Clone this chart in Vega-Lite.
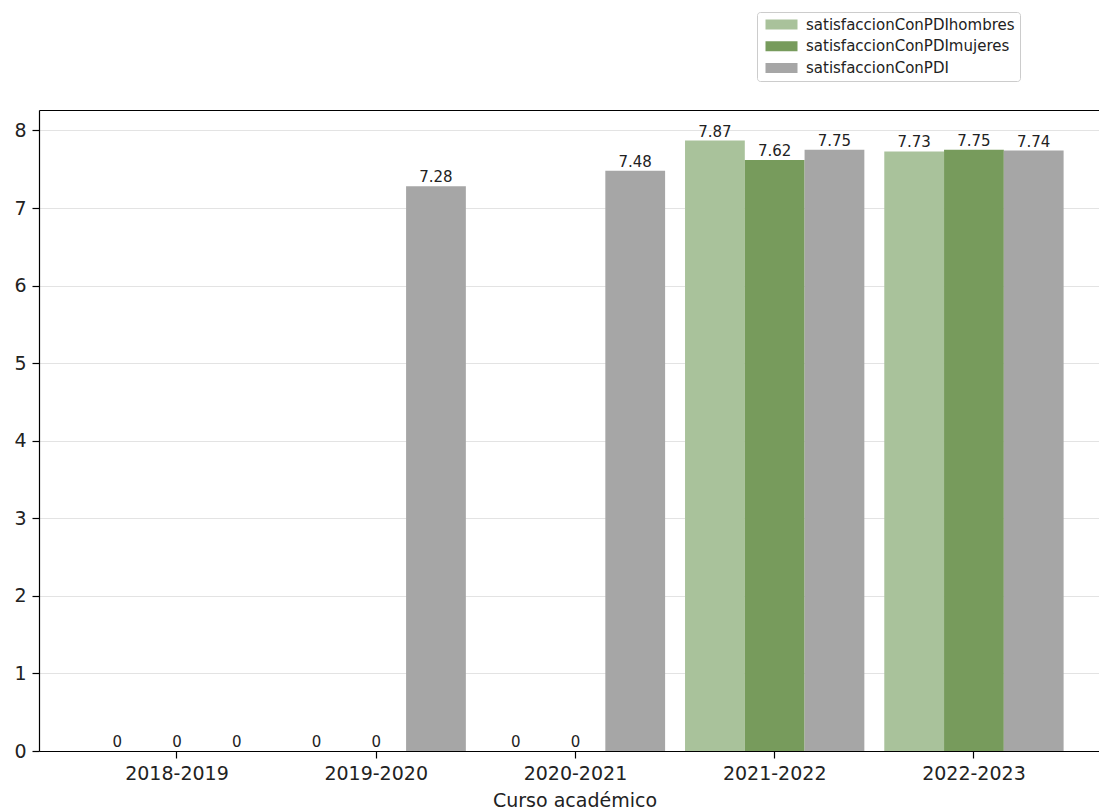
{
  "$schema": "https://vega.github.io/schema/vega-lite/v6.json",
  "width": 1060,
  "height": 641,
  "autosize": "none",
  "padding": {"left": 39, "top": 110, "right": 0, "bottom": 56},
  "background": "white",
  "config": {
    "view": {"stroke": null},
    "font": "DejaVu Sans",
    "axis": {"labelFont": "DejaVu Sans", "titleFont": "DejaVu Sans"}
  },
  "data": {
    "values": [
      {"curso": "2018-2019", "serie": "satisfaccionConPDIhombres", "valor": 0},
      {"curso": "2018-2019", "serie": "satisfaccionConPDImujeres", "valor": 0},
      {"curso": "2018-2019", "serie": "satisfaccionConPDI", "valor": 0},
      {"curso": "2019-2020", "serie": "satisfaccionConPDIhombres", "valor": 0},
      {"curso": "2019-2020", "serie": "satisfaccionConPDImujeres", "valor": 0},
      {"curso": "2019-2020", "serie": "satisfaccionConPDI", "valor": 7.28},
      {"curso": "2020-2021", "serie": "satisfaccionConPDIhombres", "valor": 0},
      {"curso": "2020-2021", "serie": "satisfaccionConPDImujeres", "valor": 0},
      {"curso": "2020-2021", "serie": "satisfaccionConPDI", "valor": 7.48},
      {"curso": "2021-2022", "serie": "satisfaccionConPDIhombres", "valor": 7.87},
      {"curso": "2021-2022", "serie": "satisfaccionConPDImujeres", "valor": 7.62},
      {"curso": "2021-2022", "serie": "satisfaccionConPDI", "valor": 7.75},
      {"curso": "2022-2023", "serie": "satisfaccionConPDIhombres", "valor": 7.73},
      {"curso": "2022-2023", "serie": "satisfaccionConPDImujeres", "valor": 7.75},
      {"curso": "2022-2023", "serie": "satisfaccionConPDI", "valor": 7.74}
    ]
  },
  "resolve": {"axis": {"x": "independent"}},
  "layer": [
    {
      "mark": {"type": "bar"},
      "encoding": {
        "x": {
          "field": "curso", "type": "nominal", "sort": null,
          "scale": {"type": "band", "paddingInner": 0.1, "paddingOuter": 0.21, "align": 0.577},
          "axis": {
            "orient": "bottom", "labelAngle": 0, "zindex": 1,
            "domainColor": "#000000", "domainWidth": 1.2,
            "tickColor": "#000000", "tickSize": 7, "tickWidth": 1.2,
            "labelFontSize": 19, "labelColor": "#222222", "labelPadding": 6,
            "title": "Curso académico", "titleFontSize": 19, "titleFontWeight": "normal",
            "titleColor": "#222222", "titleX": 535.5, "titleY": 55, "titleAlign": "center",
            "titleBaseline": "alphabetic", "grid": false
          }
        },
        "xOffset": {
          "field": "serie", "type": "nominal",
          "sort": ["satisfaccionConPDIhombres", "satisfaccionConPDImujeres", "satisfaccionConPDI"],
          "scale": {"paddingInner": 0, "paddingOuter": 0}
        },
        "y": {
          "field": "valor", "type": "quantitative",
          "scale": {"domain": [0, 8.2635], "nice": false, "zero": true},
          "axis": {
            "values": [0, 1, 2, 3, 4, 5, 6, 7, 8], "format": "d", "title": null,
            "domainColor": "#000000", "domainWidth": 1.2,
            "tickColor": "#000000", "tickSize": 7, "tickWidth": 1.2,
            "labelFontSize": 19, "labelColor": "#222222", "labelPadding": 6,
            "grid": true, "gridColor": "#e3e3e3", "gridWidth": 1
          }
        },
        "color": {
          "field": "serie", "type": "nominal",
          "scale": {
            "domain": ["satisfaccionConPDIhombres", "satisfaccionConPDImujeres", "satisfaccionConPDI"],
            "range": ["#a9c29b", "#779b5c", "#a6a6a6"]
          },
          "legend": {
            "orient": "none", "legendX": 718, "legendY": -98, "title": null,
            "symbolType": "M-3.2,-1H3.2V1H-3.2Z", "symbolSize": 100,
            "symbolStrokeWidth": 0, "symbolOpacity": 1, "symbolOffset": 12,
            "labelFontSize": 15, "labelFont": "DejaVu Sans", "labelColor": "#222222",
            "labelOffset": 17, "labelLimit": 500, "padding": 5, "rowPadding": 5.7,
            "strokeColor": "#cccccc", "fillColor": "white", "cornerRadius": 3
          }
        }
      }
    },
    {
      "mark": {"type": "text", "baseline": "alphabetic", "dy": -4, "fontSize": 15, "color": "#222222", "font": "DejaVu Sans"},
      "encoding": {
        "x": {
          "field": "curso", "type": "nominal", "sort": null,
          "axis": {"orient": "top", "labels": false, "ticks": false, "title": null, "domainColor": "#000000", "domainWidth": 1.2, "grid": false}
        },
        "xOffset": {
          "field": "serie", "type": "nominal",
          "sort": ["satisfaccionConPDIhombres", "satisfaccionConPDImujeres", "satisfaccionConPDI"]
        },
        "y": {"field": "valor", "type": "quantitative"},
        "text": {"field": "valor", "type": "quantitative"}
      }
    }
  ]
}
